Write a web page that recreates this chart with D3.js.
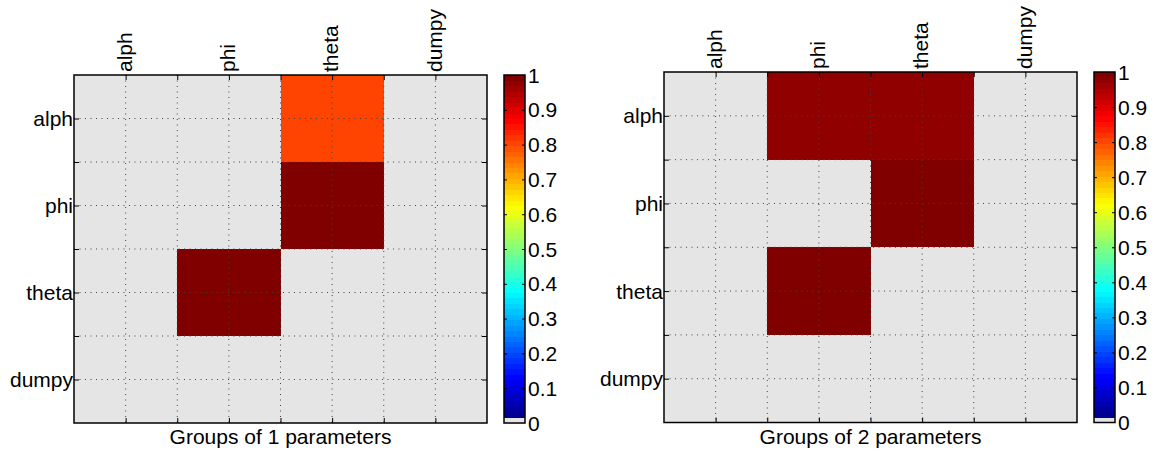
<!DOCTYPE html>
<html>
<head>
<meta charset="utf-8">
<script src="https://cdn.jsdelivr.net/npm/d3@7"></script>
<style>
  body { margin: 0; background: #fff; }
  text { font-family: "Liberation Sans", Arial, Helvetica, sans-serif; fill: #000; }
</style>
</head>
<body>
<svg id="chart" width="1159" height="465"></svg>
<script>
const params = ["alph", "phi", "theta", "dumpy"];
const cbTicks = [0, 0.1, 0.2, 0.3, 0.4, 0.5, 0.6, 0.7, 0.8, 0.9, 1];

// rows = y param, cols = x param
const groups1 = [
  [0, 0, 0.81, 0],
  [0, 0, 1, 0],
  [0, 1, 0, 0],
  [0, 0, 0, 0]
];
const groups2 = [
  [0, 0.985, 0.985, 0],
  [0, 0, 1, 0],
  [0, 1, 0, 0],
  [0, 0, 0, 0]
];
const titles = ["Groups of 1 parameters", "Groups of 2 parameters"];

const panels = [
  { data: groups1, title: titles[0], x0: 74, x1: 487, y0: 75, y1: 423, cb: [504, 525] },
  { data: groups2, title: titles[1], x0: 664, x1: 1077, y0: 72, y1: 422.5, cb: [1094, 1115] }
];

const svg = d3.select("#chart");
const fontSize = 21;
const bgGray = "#e5e5e5";

// jet colormap, 64 entries, first slot replaced by gray
function jet(t) {
  const c = v => Math.max(0, Math.min(1, v));
  const r = c(1.5 - Math.abs(4 * t - 3));
  const g = c(1.5 - Math.abs(4 * t - 2));
  const b = c(1.5 - Math.abs(4 * t - 1));
  return d3.rgb(r * 255, g * 255, b * 255).formatHex();
}
const cmap = d3.range(64).map(i => i === 0 ? bgGray : jet(i / 63));
function colorOf(v) { return cmap[Math.round(v * 63)]; }

const halfSteps = d3.range(0.5, 4.51, 0.5);

panels.forEach(p => {
  const x = d3.scaleLinear().domain([0.5, 4.5]).range([p.x0, p.x1]);
  const y = d3.scaleLinear().domain([0.5, 4.5]).range([p.y0, p.y1]);
  const g = svg.append("g");

  // cells
  p.data.forEach((row, ri) => {
    row.forEach((v, ci) => {
      g.append("rect")
        .attr("x", x(ci + 0.5)).attr("y", y(ri + 0.5))
        .attr("width", x(ci + 1.5) - x(ci + 0.5))
        .attr("height", y(ri + 1.5) - y(ri + 0.5))
        .attr("fill", colorOf(v))
        .attr("shape-rendering", "crispEdges");
    });
  });

  // dotted grid
  const inner = halfSteps.filter(d => d > 0.5 && d < 4.5);
  g.selectAll(".vg").data(inner).enter().append("line")
    .attr("x1", d => x(d)).attr("x2", d => x(d))
    .attr("y1", p.y0).attr("y2", p.y1)
    .attr("stroke", "#444").attr("stroke-width", 1)
    .attr("stroke-dasharray", "1,4.5");
  g.selectAll(".hg").data(inner).enter().append("line")
    .attr("y1", d => y(d)).attr("y2", d => y(d))
    .attr("x1", p.x0).attr("x2", p.x1)
    .attr("stroke", "#444").attr("stroke-width", 1)
    .attr("stroke-dasharray", "1,4.5");

  // tick marks on all sides (inward)
  const mk = (axis, tx, ty) => {
    const a = g.append("g").attr("transform", `translate(${tx},${ty})`)
      .call(axis.tickValues(inner).tickSize(-5).tickFormat(""));
    a.select(".domain").remove();
    a.selectAll("line").attr("stroke", "#000").attr("stroke-width", 1);
  };
  mk(d3.axisTop(x), 0, p.y0);
  mk(d3.axisBottom(x), 0, p.y1);
  mk(d3.axisLeft(y), p.x0, 0);
  mk(d3.axisRight(y), p.x1, 0);

  // box
  g.append("rect")
    .attr("x", p.x0).attr("y", p.y0)
    .attr("width", p.x1 - p.x0).attr("height", p.y1 - p.y0)
    .attr("fill", "none").attr("stroke", "#000").attr("stroke-width", 1.5);

  // labels
  params.forEach((name, i) => {
    g.append("text")
      .attr("transform", `translate(${x(i + 1)},${p.y0 - 3}) rotate(-90)`)
      .attr("dy", "0.3em")
      .attr("font-size", fontSize)
      .text(name);
    g.append("text")
      .attr("x", p.x0 - 1).attr("y", y(i + 1))
      .attr("dy", "0.36em")
      .attr("text-anchor", "end")
      .attr("font-size", fontSize)
      .text(name);
  });

  g.append("text")
    .attr("x", (p.x0 + p.x1) / 2).attr("y", 444)
    .attr("text-anchor", "middle")
    .attr("font-size", fontSize)
    .text(p.title);

  // colorbar
  const cy = d3.scaleLinear().domain([0, 1]).range([p.y1, p.y0]);
  const [c0, c1] = p.cb;
  const cb = svg.append("g");
  cmap.forEach((col, i) => {
    cb.append("rect")
      .attr("x", c0).attr("width", c1 - c0)
      .attr("y", cy((i + 1) / 64))
      .attr("height", cy(i / 64) - cy((i + 1) / 64) + 0.5)
      .attr("fill", col)
      .attr("shape-rendering", "crispEdges");
  });
  const inTicks = cbTicks.filter(d => d > 0 && d < 1);
  const cl = cb.append("g").attr("transform", `translate(${c0},0)`)
    .call(d3.axisLeft(cy).tickValues(inTicks).tickSize(-3).tickFormat(""));
  cl.select(".domain").remove();
  const cr = cb.append("g").attr("transform", `translate(${c1},0)`)
    .call(d3.axisRight(cy).tickValues(inTicks).tickSize(-3).tickFormat(""));
  cr.select(".domain").remove();
  cb.selectAll("line").attr("stroke", "#000");
  cb.append("rect")
    .attr("x", c0).attr("y", p.y0)
    .attr("width", c1 - c0).attr("height", p.y1 - p.y0)
    .attr("fill", "none").attr("stroke", "#000").attr("stroke-width", 1.5);
  cbTicks.forEach(t => {
    cb.append("text")
      .attr("x", c1 + 3).attr("y", cy(t))
      .attr("dy", "0.36em")
      .attr("font-size", fontSize)
      .text(t === 0 || t === 1 ? String(t) : d3.format(".1f")(t));
  });
});
</script>
</body>
</html>
